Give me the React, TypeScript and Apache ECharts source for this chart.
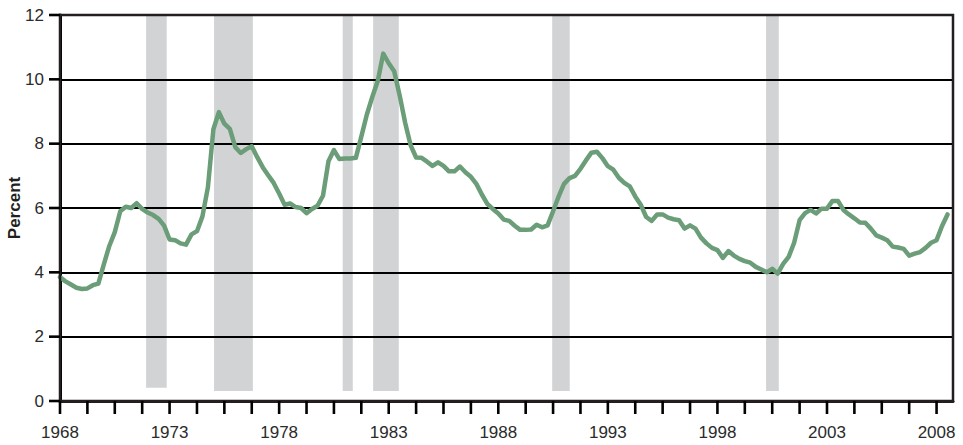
import React, { useEffect, useRef } from "react";
import * as echarts from "echarts";

// Quarterly series, first point 1968 Q1
const startYear = 1968;
const rate = [
  3.85, 3.72, 3.62, 3.52, // 1968
  3.48, 3.5, 3.6, 3.65, // 1969
  4.25, 4.82, 5.25, 5.9, // 1970
  6.04, 6.0, 6.15, 5.97, // 1971
  5.86, 5.78, 5.66, 5.45, // 1972
  5.02, 5.0, 4.9, 4.86, // 1973
  5.18, 5.28, 5.74, 6.65, // 1974
  8.45, 8.98, 8.62, 8.46, // 1975
  7.89, 7.71, 7.83, 7.92, // 1976
  7.58, 7.27, 7.02, 6.78, // 1977
  6.45, 6.1, 6.14, 6.03, // 1978
  6.0, 5.84, 5.97, 6.07, // 1979
  6.38, 7.45, 7.8, 7.52, // 1980
  7.54, 7.54, 7.56, 8.22, // 1981
  8.9, 9.45, 9.95, 10.8, // 1982
  10.5, 10.25, 9.5, 8.65, // 1983
  7.95, 7.57, 7.56, 7.44, // 1984
  7.31, 7.42, 7.31, 7.14, // 1985
  7.14, 7.29, 7.11, 6.97, // 1986
  6.75, 6.42, 6.13, 5.97, // 1987
  5.83, 5.64, 5.6, 5.45, // 1988
  5.32, 5.32, 5.33, 5.48, // 1989
  5.4, 5.46, 5.9, 6.35, // 1990
  6.75, 6.93, 7.0, 7.22, // 1991
  7.48, 7.72, 7.75, 7.55, // 1992
  7.3, 7.19, 6.94, 6.78, // 1993
  6.67, 6.36, 6.1, 5.72, // 1994
  5.6, 5.8, 5.8, 5.7, // 1995
  5.65, 5.62, 5.36, 5.46, // 1996
  5.36, 5.08, 4.9, 4.76, // 1997
  4.69, 4.45, 4.66, 4.52, // 1998
  4.42, 4.35, 4.3, 4.17, // 1999
  4.09, 4.0, 4.11, 3.96, // 2000
  4.26, 4.48, 4.92, 5.62, // 2001
  5.84, 5.94, 5.83, 5.98, // 2002
  5.98, 6.22, 6.22, 5.94, // 2003
  5.8, 5.68, 5.55, 5.54, // 2004
  5.36, 5.15, 5.08, 5.0, // 2005
  4.8, 4.77, 4.73, 4.52, // 2006
  4.58, 4.63, 4.76, 4.92, // 2007
  5.0, 5.44, 5.8, // 2008
];

// Shaded periods (years) and their lower edge (percent)
const bandStart = [1971.93, 1975.03, 1980.9, 1982.29, 1990.46, 2000.22];
const bandEnd = [1972.87, 1976.8, 1981.36, 1983.46, 1991.26, 2000.8];
const bandBottom = [0.41, 0.31, 0.31, 0.31, 0.31, 0.31];

// Axis ticks and labels
const xTicks = [
  1968, 1969.25, 1970.5, 1971.75, 1973, 1974.25, 1975.5, 1976.75, 1978,
  1979.25, 1980.5, 1981.75, 1983, 1984.25, 1985.5, 1986.75, 1988, 1989.25,
  1990.5, 1991.75, 1993, 1994.25, 1995.5, 1996.75, 1998, 1999.25, 2000.5,
  2001.75, 2003, 2004.25, 2005.5, 2006.75, 2008,
];
const xLabels = [1968, 1973, 1978, 1983, 1988, 1993, 1998, 2003, 2008];
const yTicks = [0, 2, 4, 6, 8, 10, 12];
const yTitle = "Percent";
const xMin = 1968;
const xMax = 2008.75;
const yMin = 0;
const yMax = 12;
const yStep = 2;

const FONT = "'Liberation Sans', Arial, sans-serif";
const INK = "#231f20";

export default function App() {
  const ref = useRef<HTMLDivElement>(null);

  useEffect(() => {
    document.body.style.margin = "0";
    if (!ref.current) return;
    const chart = echarts.init(ref.current, undefined, { renderer: "svg" });

    const lineData = rate.map((v, i) => [startYear + i / 4, v]);
    const bandData = bandStart.map((s, i) => [s, bandEnd[i], bandBottom[i], yMax]);

    chart.setOption({
      animation: false,
      backgroundColor: "#ffffff",
      grid: {
        left: 60,
        right: 10,
        top: 15,
        bottom: 44,
        outerBoundsMode: "none",
        containLabel: false,
        show: true,
        backgroundColor: "transparent",
        borderColor: INK,
        borderWidth: 2.5,
        z: 5,
      },
      graphic: [
        {
          type: "text",
          x: 14,
          y: 208,
          rotation: Math.PI / 2,
          style: {
            text: yTitle,
            fontFamily: FONT,
            fontWeight: "bold",
            fontSize: 17,
            fill: INK,
            align: "center",
            verticalAlign: "middle",
          },
        },
      ],
      xAxis: {
        type: "value",
        min: xMin,
        max: xMax,
        z: 3,
        axisLine: { show: true, onZero: false, lineStyle: { color: INK, width: 3 } },
        axisTick: { show: false },
        axisLabel: {
          customValues: xLabels,
          formatter: (v: number) => String(Math.round(v)),
          fontSize: 17,
          fontFamily: FONT,
          color: "#2b2b2b",
          margin: 23,
        },
        splitLine: { show: false },
      },
      yAxis: {
        type: "value",
        min: yMin,
        max: yMax,
        interval: yStep,
        z: 3,
        axisLine: { show: true, lineStyle: { color: "#000", width: 3 } },
        axisTick: { show: false },
        axisLabel: {
          fontSize: 17,
          fontFamily: FONT,
          color: "#2b2b2b",
          margin: 16,
        },
        splitLine: { show: true, lineStyle: { color: "#000", width: 2 } },
      },
      series: [
        {
          type: "custom",
          z: 1,
          silent: true,
          data: bandData,
          encode: { x: [0, 1], y: [2, 3] },
          renderItem: (params: any, api: any) => {
            const p1 = api.coord([api.value(0), api.value(2)]);
            const p2 = api.coord([api.value(1), api.value(3)]);
            return {
              type: "rect",
              shape: { x: p1[0], y: p2[1], width: p2[0] - p1[0], height: p1[1] - p2[1] },
              style: { fill: "#d1d3d4" },
            };
          },
        },
        {
          // x-axis tick marks
          type: "custom",
          z: 6,
          silent: true,
          clip: false,
          data: xTicks.map((t) => [t, yMin]),
          renderItem: (params: any, api: any) => {
            const p = api.coord([api.value(0), api.value(1)]);
            return {
              type: "line",
              shape: { x1: p[0], y1: p[1], x2: p[0], y2: p[1] + 13 },
              style: { stroke: "#000", lineWidth: 2.6 },
            };
          },
        },
        {
          // y-axis tick marks
          type: "custom",
          z: 6,
          silent: true,
          clip: false,
          data: yTicks.map((t) => [xMin, t]),
          renderItem: (params: any, api: any) => {
            const p = api.coord([api.value(0), api.value(1)]);
            return {
              type: "line",
              shape: { x1: p[0] - 11, y1: p[1], x2: p[0], y2: p[1] },
              style: { stroke: "#000", lineWidth: 2.6 },
            };
          },
        },
        {
          type: "line",
          z: 4,
          data: lineData,
          showSymbol: false,
          symbol: "none",
          lineStyle: { color: "#6b9d78", width: 4.5, join: "round", cap: "round" },
        },
      ],
    });

    return () => chart.dispose();
  }, []);

  return <div ref={ref} style={{ width: 963, height: 445 }} />;
}
